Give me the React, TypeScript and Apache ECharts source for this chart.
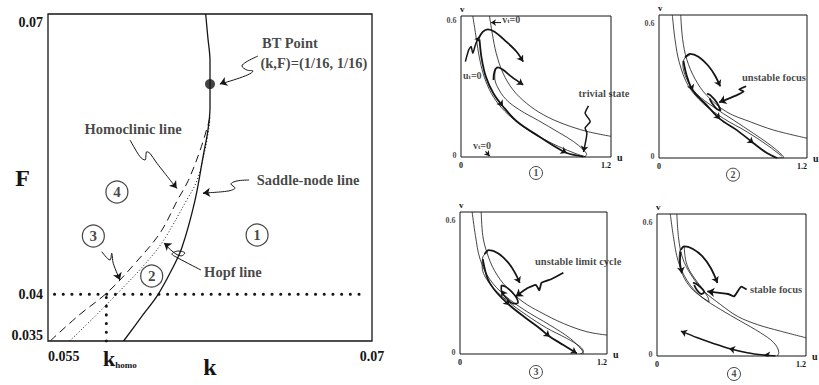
import React, { useEffect, useRef } from 'react';
import * as echarts from 'echarts';

type P = [number, number];

const INK = '#151515';
const SERIF = '"Liberation Serif", "DejaVu Serif", serif';

/* ---------- (k, F) bifurcation diagram ---------- */
const kTicks = [0.055, 0.0577, 0.07];
const fTicks = [0.035, 0.04, 0.07];
const kHomo = 0.0577;
const fLevel = 0.04;
const btPoint: P[] = [[0.0625, 0.0625]];

const saddleNodeLine: P[] = [
  [0.0585, 0.035], [0.0593, 0.0375], [0.0601, 0.04], [0.0607, 0.0425], [0.0612, 0.045],
  [0.0618, 0.05], [0.0622, 0.055], [0.0624, 0.0575], [0.0625, 0.06], [0.0625, 0.0625],
  [0.0625, 0.065], [0.0624, 0.0675], [0.0623, 0.07],
];
const hopfLine: P[] = [
  [0.056, 0.035], [0.0572, 0.0377], [0.0583, 0.0403], [0.0594, 0.043], [0.0603, 0.0456],
  [0.0614, 0.05], [0.0619, 0.0522], [0.0623, 0.0558], [0.0625, 0.0587],
];
const homoclinicLine: P[] = [
  [0.0551, 0.035], [0.0564, 0.0377], [0.0578, 0.0403], [0.0591, 0.0435], [0.0602, 0.0466],
  [0.061, 0.0501], [0.0615, 0.0522], [0.0621, 0.0558], [0.0625, 0.0589],
];
const fLevelLine: P[] = [[0.0553, fLevel], [0.0697, fLevel]];
const kHomoLine: P[] = [[kHomo, 0.035], [kHomo, fLevel]];

const regionNames = ['1', '2', '3', '4'];
const regionAt: P[] = [[0.06468, 0.04635], [0.0598, 0.04196], [0.0571, 0.04624], [0.05819, 0.05095]];

const noteTexts = ['BT Point', '(k,F)=(1/16, 1/16)', 'Homoclinic line', 'Saddle-node line', 'Hopf line'];
const noteAt: P[] = [[0.0662, 0.0669], [0.06731, 0.06475], [0.05894, 0.05769], [0.06704, 0.05223], [0.06356, 0.04239]];

const btPointer: P[] = [[0.06472, 0.0655], [0.06417, 0.06486], [0.06398, 0.06443], [0.06421, 0.064], [0.06449, 0.0639], [0.06296, 0.06251]];
const homoPointer: P[] = [[0.0588, 0.05651], [0.05926, 0.05473], [0.05949, 0.05437], [0.05957, 0.05526], [0.05972, 0.05509], [0.06, 0.05416], [0.06096, 0.05134]];
const snPointer: P[] = [[0.06431, 0.05223], [0.06375, 0.05213], [0.06347, 0.0518], [0.06366, 0.05138], [0.06333, 0.05105], [0.06218, 0.05084]];
const hopfPointer: P[] = [[0.06208, 0.0426], [0.06102, 0.04388], [0.06074, 0.04431], [0.06102, 0.04463], [0.06134, 0.04442], [0.06116, 0.0441], [0.06037, 0.04549]];
const region3Pointer: P[] = [[0.05749, 0.04456], [0.05787, 0.04367], [0.05795, 0.04439], [0.05802, 0.04332], [0.05833, 0.04153]];

/* ---------- phase planes (u, v) ---------- */
const uTicks = [0, 1.2];
const vTicks = [0, 0.6];
const vTickLabels = ['0', '0.6'];

// panel 1
const p1UNull: P[] = [[0.094, 0.6], [0.115, 0.53], [0.135, 0.46], [0.16, 0.39], [0.2, 0.32], [0.26, 0.255], [0.35, 0.195], [0.47, 0.14], [0.62, 0.088], [0.78, 0.045], [0.92, 0.014], [1.0, 0]];
const p1VNull: P[] = [[0.228, 0.6], [0.25, 0.526], [0.282, 0.441], [0.336, 0.357], [0.416, 0.286], [0.523, 0.229], [0.658, 0.18], [0.819, 0.141], [1.007, 0.109], [1.2, 0.088]];
const p1Loop: P[] = [[0.275, 0.378], [0.27, 0.34], [0.29, 0.3], [0.36, 0.245], [0.47, 0.2], [0.62, 0.155], [0.78, 0.105], [0.9, 0.066], [0.98, 0.03], [1.005, 0.01], [0.985, 0]];
const p1TrajA: P[] = [[0.142, 0.505], [0.174, 0.532], [0.215, 0.543], [0.268, 0.533], [0.362, 0.491], [0.443, 0.449], [0.497, 0.406]];
const p1TrajB: P[] = [[0.26, 0.328], [0.268, 0.364], [0.295, 0.381], [0.336, 0.371], [0.403, 0.342], [0.497, 0.307]];
const p1TrajC: P[] = [[0.148, 0.5], [0.165, 0.42], [0.2, 0.34], [0.26, 0.27], [0.336, 0.215], [0.45, 0.15], [0.631, 0.085], [0.75, 0.045], [0.846, 0.017], [0.98, 0.002]];
const p1UPointer: P[] = [[0.035, 0.406], [0.062, 0.456], [0.081, 0.47], [0.094, 0.441], [0.115, 0.477], [0.129, 0.495], [0.148, 0.512]];
const p1VPointerTop: P[] = [[0.32, 0.572], [0.24, 0.572]];
const p1VPointerLow: P[] = [[0.196, 0.024], [0.228, 0.004]];
const p1StatePointer: P[] = [[1.02, 0.218], [0.993, 0.187], [1.034, 0.151], [0.993, 0.123], [1.007, 0.102], [0.98, 0.022]];

// panel 2
const p2UNull: P[] = [[0.108, 0.6], [0.13, 0.497], [0.165, 0.4], [0.238, 0.303], [0.36, 0.228], [0.523, 0.166], [0.713, 0.11], [0.875, 0.055], [0.997, 0.007]];
const p2VNull: P[] = [[0.176, 0.6], [0.192, 0.497], [0.225, 0.414], [0.293, 0.331], [0.388, 0.262], [0.55, 0.193], [0.74, 0.152], [0.93, 0.117], [1.2, 0.083]];
const p2Loop: P[] = [[0.252, 0.432], [0.211, 0.42], [0.193, 0.394], [0.225, 0.331], [0.306, 0.269], [0.442, 0.214], [0.604, 0.159], [0.767, 0.103], [0.901, 0.055], [0.98, 0.021], [1.011, 0.003], [0.957, 0]];
const p2TrajUp: P[] = [[0.211, 0.421], [0.252, 0.437], [0.32, 0.425], [0.401, 0.386], [0.455, 0.345], [0.496, 0.301]];
const p2TrajLow: P[] = [[0.198, 0.407], [0.225, 0.345], [0.274, 0.283], [0.388, 0.221], [0.496, 0.163], [0.631, 0.117], [0.767, 0.062], [0.875, 0.021], [0.957, 0]];
const p2Spiral: P[] = [[0.39, 0.27], [0.42, 0.262], [0.47, 0.232], [0.5, 0.2], [0.47, 0.205], [0.43, 0.23], [0.41, 0.25]];
const p2Pointer: P[] = [[0.707, 0.301], [0.65, 0.288], [0.686, 0.279], [0.623, 0.262], [0.488, 0.234]];

// panel 3
const p3UNull: P[] = [[0.099, 0.6], [0.126, 0.5], [0.164, 0.401], [0.241, 0.317], [0.364, 0.248], [0.529, 0.185], [0.734, 0.122], [0.899, 0.066], [0.995, 0.017], [1.008, 0]];
const p3VNull: P[] = [[0.173, 0.6], [0.186, 0.5], [0.219, 0.43], [0.282, 0.352], [0.378, 0.283], [0.515, 0.22], [0.652, 0.178], [0.844, 0.129], [1.036, 0.094], [1.2, 0.08]];
const p3Loop: P[] = [[0.227, 0.431], [0.186, 0.41], [0.181, 0.368], [0.241, 0.298], [0.378, 0.228], [0.542, 0.165], [0.707, 0.11], [0.871, 0.066], [0.981, 0.031], [1.008, 0.01], [0.981, 0]];
const p3TrajUp: P[] = [[0.2, 0.422], [0.236, 0.439], [0.31, 0.426], [0.392, 0.387], [0.447, 0.345], [0.488, 0.3]];
const p3TrajLow: P[] = [[0.186, 0.401], [0.227, 0.317], [0.296, 0.262], [0.405, 0.206], [0.542, 0.15], [0.652, 0.108], [0.734, 0.073], [0.844, 0.038], [0.953, 0.003]];
const p3Cycle: P[] = [[0.337, 0.29], [0.378, 0.283], [0.447, 0.248], [0.474, 0.217], [0.438, 0.213], [0.378, 0.236], [0.337, 0.269], [0.337, 0.29]];
const p3Pointer: P[] = [[0.844, 0.343], [0.748, 0.317], [0.666, 0.301], [0.647, 0.269], [0.619, 0.292], [0.548, 0.278], [0.455, 0.243]];

// panel 4
const p4UNull: P[] = [[0.107, 0.6], [0.134, 0.498], [0.171, 0.4], [0.246, 0.316], [0.353, 0.252], [0.513, 0.196], [0.674, 0.147], [0.834, 0.098], [0.941, 0.056], [0.981, 0.014], [0.968, 0]];
const p4VNull: P[] = [[0.16, 0.6], [0.174, 0.498], [0.206, 0.414], [0.273, 0.344], [0.38, 0.273], [0.513, 0.217], [0.647, 0.168], [0.807, 0.133], [0.995, 0.105], [1.2, 0.077]];
const p4Loop: P[] = [[0.219, 0.463], [0.187, 0.449], [0.179, 0.407], [0.206, 0.344], [0.273, 0.288], [0.353, 0.252], [0.42, 0.229], [0.406, 0.252], [0.34, 0.302], [0.273, 0.351], [0.233, 0.4], [0.219, 0.463]];
const p4TrajUp: P[] = [[0.193, 0.449], [0.219, 0.463], [0.286, 0.453], [0.366, 0.421], [0.433, 0.372], [0.487, 0.309]];
const p4TrajLeft: P[] = [[0.19, 0.44], [0.185, 0.4], [0.2, 0.35]];
const p4Spiral: P[] = [[0.29, 0.31], [0.33, 0.3], [0.38, 0.27], [0.36, 0.262], [0.32, 0.28], [0.3, 0.3]];
const p4TrajBottom: P[] = [[0.955, 0], [0.861, 0.004], [0.727, 0.014], [0.58, 0.032], [0.46, 0.052], [0.326, 0.077], [0.193, 0.105]];
const p4Pointer: P[] = [[0.722, 0.281], [0.679, 0.293], [0.647, 0.271], [0.62, 0.252], [0.572, 0.262], [0.406, 0.273]];

const panelNames = ['1', '2', '3', '4'];
const panelNameAt: P[] = [[0.6, -0.068], [0.6, -0.07], [0.62, -0.076], [0.62, -0.076]];

const panelNotes = [
  [
    { text: '{b|u}{s|t}{b|=0}', at: [0.016, 0.345] as P, align: 'left' },
    { text: '{b|v}{s|t}{b|=0}', at: [0.33, 0.583] as P, align: 'left' },
    { text: '{b|v}{s|t}{b|=0}', at: [0.096, 0.05] as P, align: 'left' },
    { text: '{n|trivial state}', at: [1.144, 0.272] as P, align: 'center' },
  ],
  [{ text: '{n|unstable focus}', at: [0.673, 0.336] as P, align: 'left' }],
  [{ text: '{n|unstable limit cycle}', at: [0.612, 0.389] as P, align: 'left' }],
  [{ text: '{n|stable focus}', at: [0.749, 0.283] as P, align: 'left' }],
];

/* ---------- helpers ---------- */
function curve(g: number, data: P[], width: number, extra: any = {}, smooth: any = 0.35) {
  return {
    type: 'line', xAxisIndex: g, yAxisIndex: g, data, showSymbol: false, symbol: 'none',
    smooth, silent: true, z: 3, lineStyle: { color: INK, width, ...extra },
  };
}
function head(a: P, b: P): P[] {
  return [[b[0] - (b[0] - a[0]) * 0.12, b[1] - (b[1] - a[1]) * 0.12], b];
}
function heads(g: number, segs: P[][], size = 6) {
  return {
    type: 'lines', coordinateSystem: 'cartesian2d', xAxisIndex: g, yAxisIndex: g,
    data: segs.map((c) => ({ coords: c })), symbol: ['none', 'arrow'], symbolSize: size,
    silent: true, z: 5, lineStyle: { color: INK, width: 1, opacity: 1, curveness: 0 },
  };
}
const at = (c: P[], i: number) => head(c[i - 1], c[i]);
const end = (c: P[]) => head(c[c.length - 2], c[c.length - 1]);

const bold = { fontFamily: SERIF, fontWeight: 'bold', color: INK };

export default function App() {
  const ref = useRef<HTMLDivElement>(null);
  useEffect(() => {
    if (!ref.current) return;
    const chart = echarts.init(ref.current, undefined, { renderer: 'svg' });

    const panelGrids = [
      { left: 461, top: 16, width: 150, height: 141 },
      { left: 659, top: 15, width: 148, height: 143 },
      { left: 460, top: 212, width: 147, height: 142 },
      { left: 657, top: 214, width: 149, height: 142 },
    ];

    const gridBase = { show: true, borderColor: INK, backgroundColor: 'transparent', containLabel: false, outerBoundsMode: 'none' };
    const grids: any[] = [
      { left: 48, top: 14, width: 324, height: 327, borderWidth: 1.3, ...gridBase },
      ...panelGrids.map((p) => ({ ...p, borderWidth: 1, ...gridBase })),
    ];

    const xAxes: any[] = [
      {
        gridIndex: 0, type: 'value', min: 0.055, max: 0.07,
        axisLine: { show: false }, axisTick: { show: false }, splitLine: { show: false },
        axisLabel: {
          customValues: kTicks, margin: 6, fontSize: 14, alignMinLabel: 'left', ...bold,
          formatter: (v: number) => (Math.abs(v - kHomo) < 1e-7 ? '{k|k}{h|homo}' : Math.abs(v - 0.055) < 1e-7 ? '{n|0.055}' : '{n|0.07}'),
          rich: {
            n: { fontSize: 14, ...bold, padding: [2, 0, 0, 0] },
            k: { fontSize: 22, ...bold, padding: [0, 0, 0, 27] },
            h: { fontSize: 9, ...bold, verticalAlign: 'bottom' },
          },
        },
        name: 'k', nameLocation: 'middle', nameGap: 14, nameMoveOverlap: false,
        nameTextStyle: { fontSize: 24, ...bold },
      },
      ...panelGrids.map((_, i) => ({
        gridIndex: i + 1, type: 'value', min: uTicks[0], max: uTicks[1], interval: uTicks[1],
        axisLine: { show: false }, axisTick: { show: false }, splitLine: { show: false },
        axisLabel: { fontSize: 8, margin: 4, alignMaxLabel: 'right', ...bold },
        name: 'u', nameLocation: 'end', nameGap: 6, nameTextStyle: { fontSize: 10, ...bold },
      })),
    ];

    const yAxes: any[] = [
      {
        gridIndex: 0, type: 'value', min: 0.035, max: 0.07,
        axisLine: { show: false }, axisTick: { show: false }, splitLine: { show: false },
        axisLabel: {
          customValues: fTicks, margin: 5, fontSize: 14, ...bold,
          formatter: (v: number) => (v > 0.069 ? '{hi|0.07}' : v < 0.036 ? '{lo|0.035}' : '{n|0.04}'),
          rich: {
            hi: { fontSize: 14, ...bold, padding: [16, 0, 0, 0] },
            lo: { fontSize: 14, ...bold, padding: [0, 0, 12, 0] },
            n: { fontSize: 14, ...bold },
          },
        },
        name: 'F', nameLocation: 'middle', nameGap: 18, nameRotate: 0, nameMoveOverlap: false,
        nameTextStyle: { fontSize: 24, ...bold, padding: [16, 0, 0, 0] },
      },
      ...panelGrids.map((_, i) => ({
        gridIndex: i + 1, type: 'value', min: vTicks[0], max: vTicks[1], interval: vTicks[1],
        axisLine: { show: false }, axisTick: { show: false }, splitLine: { show: false },
        axisLabel: { show: false },
        name: 'v', nameLocation: 'end', nameGap: 3, nameMoveOverlap: false,
        nameTextStyle: { fontSize: 9, ...bold, align: 'left', padding: [0, 0, 0, -1] },
      })),
    ];

    const thin = 0.8;
    const thick = 1.8;
    const noteRich = {
      b: { fontSize: 10, ...bold },
      s: { fontSize: 7, ...bold, verticalAlign: 'bottom' },
      n: { fontSize: 10.5, ...bold },
    };

    const series: any[] = [
      // left diagram
      curve(0, saddleNodeLine, 1.3),
      curve(0, hopfLine, 1, { type: [1, 2.2] }),
      curve(0, homoclinicLine, 1, { type: [8, 5] }),
      curve(0, fLevelLine, 3, { type: [0.1, 8.6], cap: 'round' }, false),
      curve(0, kHomoLine, 3, { type: [0.1, 8.6], cap: 'round' }, false),
      curve(0, btPointer, 1), heads(0, [end(btPointer)], 7),
      curve(0, homoPointer, 1), heads(0, [end(homoPointer)], 7),
      curve(0, snPointer, 1), heads(0, [end(snPointer)], 7),
      curve(0, hopfPointer, 1), heads(0, [end(hopfPointer)], 7),
      curve(0, region3Pointer, 1), heads(0, [end(region3Pointer)], 7),
      {
        type: 'scatter', xAxisIndex: 0, yAxisIndex: 0, data: btPoint, symbolSize: 10, silent: true, z: 6,
        itemStyle: { color: INK },
      },
      {
        type: 'scatter', xAxisIndex: 0, yAxisIndex: 0, silent: true, z: 6, symbolSize: 22,
        data: regionAt.map((p, i) => ({ value: p, name: regionNames[i] })),
        itemStyle: { color: '#fff', borderColor: INK, borderWidth: 1.2 },
        label: { show: true, position: 'inside', formatter: '{b}', fontSize: 15, ...bold },
      },
      {
        type: 'scatter', xAxisIndex: 0, yAxisIndex: 0, silent: true, z: 6, symbolSize: 1,
        data: noteAt.map((p, i) => ({ value: p, name: noteTexts[i] })),
        itemStyle: { color: 'transparent' },
        label: { show: true, position: 'inside', formatter: '{b}', fontSize: 14.5, ...bold },
      },
      // panel 1
      curve(1, p1UNull, thin), curve(1, p1VNull, thin), curve(1, p1Loop, thin),
      curve(1, p1TrajA, thick), curve(1, p1TrajB, thick), curve(1, p1TrajC, thick),
      heads(1, [end(p1TrajA), end(p1TrajB), at(p1TrajC, 4), at(p1TrajC, 8)], 6),
      curve(1, p1UPointer, 1.5, {}, 0.2), heads(1, [end(p1UPointer)], 5),
      curve(1, p1VPointerTop, 1, {}, false), heads(1, [end(p1VPointerTop)], 5),
      curve(1, p1VPointerLow, 1.2, {}, false), heads(1, [end(p1VPointerLow)], 5),
      curve(1, p1StatePointer, 1.5, {}, 0.2), heads(1, [end(p1StatePointer)], 6),
      // panel 2
      curve(2, p2UNull, thin), curve(2, p2VNull, thin), curve(2, p2Loop, thin),
      curve(2, p2TrajUp, thick), curve(2, p2TrajLow, thick), curve(2, p2Spiral, thick),
      heads(2, [end(p2TrajUp), at(p2TrajLow, 2), at(p2TrajLow, 4), at(p2TrajLow, 6)], 6),
      curve(2, p2Pointer, 1.8, {}, 0.15), heads(2, [end(p2Pointer)], 7),
      // panel 3
      curve(3, p3UNull, thin), curve(3, p3VNull, thin), curve(3, p3Loop, thin),
      curve(3, p3TrajUp, thick), curve(3, p3TrajLow, thick), curve(3, p3Cycle, 1.6),
      heads(3, [end(p3TrajUp), at(p3TrajLow, 3), at(p3TrajLow, 6), end(p3TrajLow), at(p3Cycle, 6)], 6),
      curve(3, p3Pointer, 1.8, {}, 0.15), heads(3, [end(p3Pointer)], 7),
      // panel 4
      curve(4, p4UNull, thin), curve(4, p4VNull, thin), curve(4, p4Loop, thin),
      curve(4, p4TrajUp, thick), curve(4, p4TrajLeft, thick), curve(4, p4Spiral, thick), curve(4, p4TrajBottom, 1.5),
      heads(4, [end(p4TrajUp), end(p4TrajLeft), at(p4TrajBottom, 1), at(p4TrajBottom, 3), end(p4TrajBottom)], 6),
      curve(4, p4Pointer, 1.8, {}, 0.15), heads(4, [end(p4Pointer)], 7),
    ];

    panelNotes.forEach((notes, i) => {
      series.push({
        type: 'scatter', xAxisIndex: i + 1, yAxisIndex: i + 1, silent: true, z: 6, symbolSize: 1, clip: false,
        data: notes.map((n) => ({ value: n.at, name: n.text, label: { align: n.align } })),
        itemStyle: { color: 'transparent' },
        label: { show: true, position: 'inside', formatter: '{b}', rich: noteRich, ...bold },
      });
      // v-axis tick labels, drawn beside the left edge of the box
      series.push({
        type: 'scatter', xAxisIndex: i + 1, yAxisIndex: i + 1, silent: true, z: 6, symbolSize: 1, clip: false,
        data: vTicks.map((v, j) => ({ value: [0, v], name: vTickLabels[j], label: { offset: [0, v > 0 ? (i === 0 ? 4 : 8) : -2] } })),
        itemStyle: { color: 'transparent' },
        label: { show: true, position: 'left', distance: 4, formatter: '{b}', fontSize: 8, ...bold },
      });
      series.push({
        type: 'scatter', xAxisIndex: i + 1, yAxisIndex: i + 1, silent: true, z: 6, symbolSize: 13, clip: false,
        data: [{ value: panelNameAt[i], name: panelNames[i] }],
        itemStyle: { color: '#fff', borderColor: INK, borderWidth: 1 },
        label: { show: true, position: 'inside', formatter: '{b}', fontSize: 10, ...bold },
      });
    });

    chart.setOption({
      animation: false,
      backgroundColor: '#fff',
      textStyle: { fontFamily: SERIF, color: INK },
      grid: grids,
      xAxis: xAxes,
      yAxis: yAxes,
      series,
    });
    return () => chart.dispose();
  }, []);

  return <div ref={ref} style={{ position: 'fixed', left: 0, top: 0, width: 819, height: 385, background: '#fff' }} />;
}
